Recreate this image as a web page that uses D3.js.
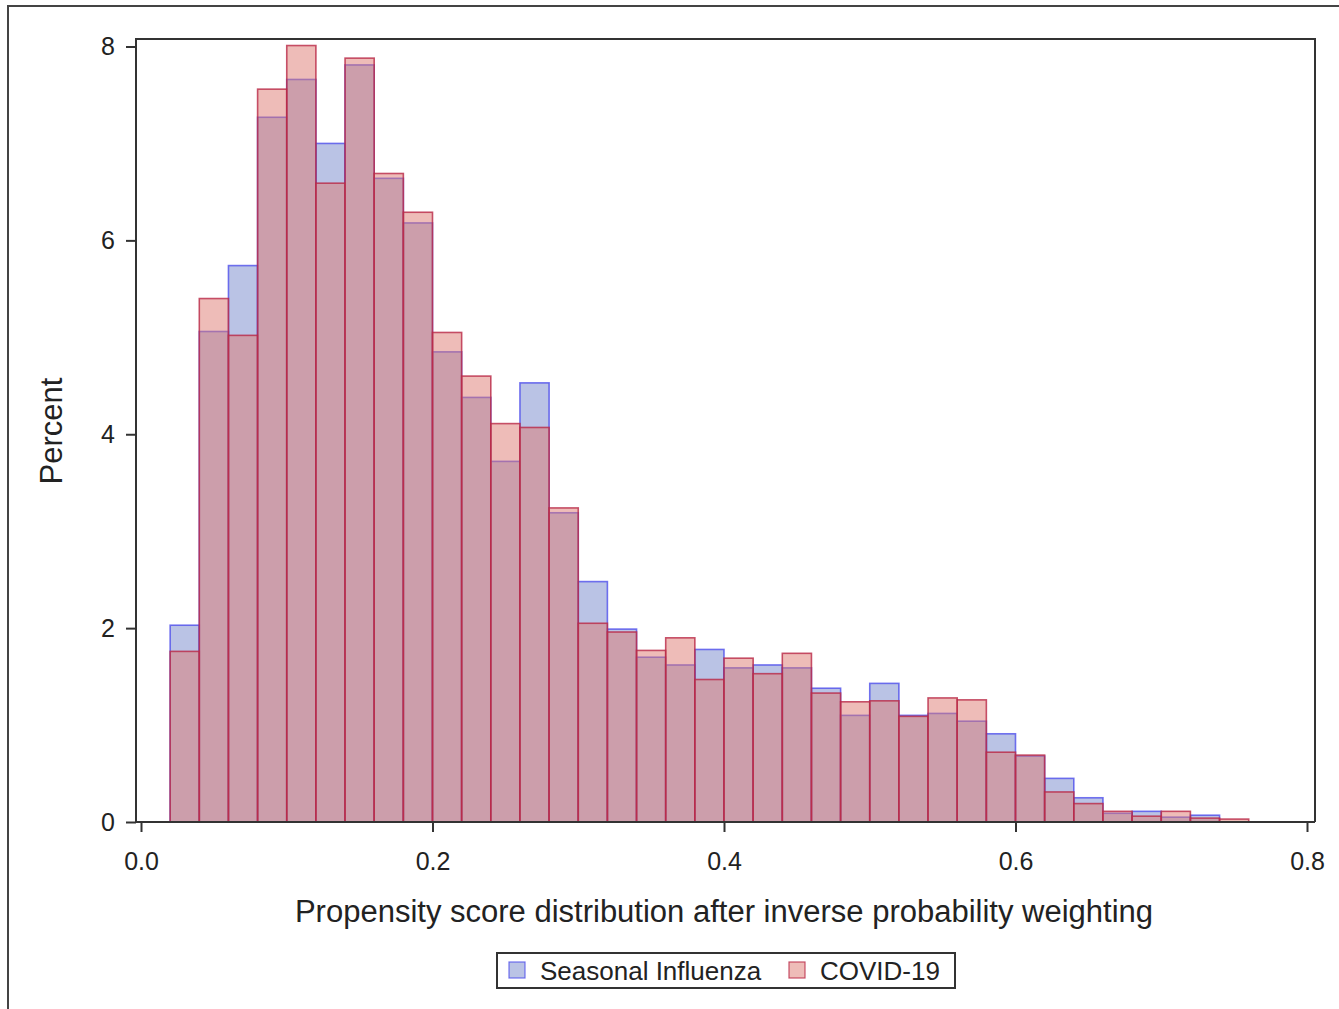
<!DOCTYPE html>
<html>
<head>
<meta charset="utf-8">
<script src="https://cdn.jsdelivr.net/npm/d3@7"></script>
<style>
  html, body { margin: 0; padding: 0; background: #fff; }
  svg { display: block; font-family: "Liberation Sans", Arial, sans-serif; }
</style>
</head>
<body>
<svg id="chart" width="1339" height="1009"></svg>
<script>
// Histogram bins: lower edge of each 0.02-wide propensity score bin
const binStarts = [0.02, 0.04, 0.06, 0.08, 0.10, 0.12, 0.14, 0.16, 0.18, 0.20,
                   0.22, 0.24, 0.26, 0.28, 0.30, 0.32, 0.34, 0.36, 0.38, 0.40,
                   0.42, 0.44, 0.46, 0.48, 0.50, 0.52, 0.54, 0.56, 0.58, 0.60,
                   0.62, 0.64, 0.66, 0.68, 0.70, 0.72, 0.74];
const binWidth = 0.02;

// Percent of patients in each bin
const influenzaPct = [2.03, 5.06, 5.74, 7.27, 7.66, 7.00, 7.81, 6.64, 6.18, 4.85,
                      4.38, 3.72, 4.53, 3.19, 2.48, 1.99, 1.70, 1.62, 1.78, 1.59,
                      1.62, 1.59, 1.38, 1.10, 1.43, 1.10, 1.12, 1.04, 0.91, 0.68,
                      0.45, 0.25, 0.09, 0.11, 0.05, 0.07, 0.00];
const covidPct     = [1.76, 5.40, 5.02, 7.56, 8.01, 6.59, 7.88, 6.69, 6.29, 5.05,
                      4.60, 4.11, 4.07, 3.24, 2.05, 1.96, 1.77, 1.90, 1.47, 1.69,
                      1.53, 1.74, 1.33, 1.24, 1.25, 1.09, 1.28, 1.26, 0.72, 0.69,
                      0.31, 0.19, 0.11, 0.06, 0.11, 0.04, 0.03];

const xTicks = [0.0, 0.2, 0.4, 0.6, 0.8];
const yTicks = [0, 2, 4, 6, 8];
const seriesNames = ["Seasonal Influenza", "COVID-19"];

const svg = d3.select("#chart");
const axisColor = "#333";

// Outer graph border
svg.append("rect")
  .attr("x", 8).attr("y", 6)
  .attr("width", 1400).attr("height", 1100)
  .attr("fill", "none").attr("stroke", "#444").attr("stroke-width", 2);

const frame = { left: 136, right: 1315, top: 39, bottom: 822 };

const x = d3.scaleLinear().domain([0, 0.8]).range([141, 1307]);
const y = d3.scaleLinear().domain([0, 8]).range([822, 46.5]);

const series = [
  { name: seriesNames[0], values: influenzaPct, fill: "rgba(118,136,204,0.5)", stroke: "rgba(70,70,235,0.75)" },
  { name: seriesNames[1], values: covidPct,     fill: "rgba(221,122,114,0.5)", stroke: "rgba(185,40,70,0.8)" }
];

// Overlaid histogram bars, influenza underneath
series.forEach(s => {
  svg.append("g")
    .selectAll("rect")
    .data(binStarts.map((b, i) => ({ b, v: s.values[i] })).filter(d => d.v > 0))
    .join("rect")
      .attr("x", d => x(d.b))
      .attr("y", d => y(d.v))
      .attr("width", d => x(d.b + binWidth) - x(d.b))
      .attr("height", d => y(0) - y(d.v))
      .attr("fill", s.fill)
      .attr("stroke", s.stroke)
      .attr("stroke-width", 1.6);
});

// Plot frame
svg.append("path")
  .attr("d", `M${frame.left},${frame.bottom}V${frame.top}H${frame.right}V${frame.bottom}`)
  .attr("fill", "none").attr("stroke", axisColor).attr("stroke-width", 2);

// X axis
const xAxis = d3.axisBottom(x).tickValues(xTicks).tickFormat(d3.format(".1f"))
  .tickSizeOuter(0).tickSizeInner(10).tickPadding(20);
const gx = svg.append("g").attr("transform", `translate(0,${frame.bottom})`).call(xAxis);
gx.select(".domain").attr("d", `M${frame.left},0H${frame.right}`).attr("stroke", axisColor).attr("stroke-width", 2);
gx.selectAll(".tick line").attr("stroke", axisColor).attr("stroke-width", 2);
gx.selectAll(".tick text").attr("fill", "#222").style("font-size", "25px");

// Y axis
const yAxis = d3.axisLeft(y).tickValues(yTicks).tickFormat(d3.format("d"))
  .tickSizeOuter(0).tickSizeInner(10).tickPadding(11);
const gy = svg.append("g").attr("transform", `translate(${frame.left},0)`).call(yAxis);
gy.select(".domain").remove();
gy.selectAll(".tick line").attr("stroke", axisColor).attr("stroke-width", 2);
gy.selectAll(".tick text").attr("fill", "#222").style("font-size", "25px");

// Axis titles
svg.append("text")
  .attr("x", 724).attr("y", 922)
  .attr("text-anchor", "middle")
  .attr("fill", "#222")
  .style("font-size", "31px")
  .text("Propensity score distribution after inverse probability weighting");

svg.append("text")
  .attr("transform", "translate(62,431) rotate(-90)")
  .attr("text-anchor", "middle")
  .attr("fill", "#222")
  .style("font-size", "31px")
  .text("Percent");

// Legend
const legend = svg.append("g");
legend.append("rect")
  .attr("x", 497).attr("y", 953).attr("width", 458).attr("height", 35)
  .attr("fill", "#fff").attr("stroke", "#333").attr("stroke-width", 2);
const legendItems = [
  { s: series[0], sx: 509, tx: 540 },
  { s: series[1], sx: 789, tx: 820 }
];
legendItems.forEach(it => {
  legend.append("rect")
    .attr("x", it.sx).attr("y", 962).attr("width", 16).attr("height", 16)
    .attr("fill", it.s.fill).attr("stroke", it.s.stroke).attr("stroke-width", 1.2);
  legend.append("text")
    .attr("x", it.tx).attr("y", 980)
    .attr("fill", "#222")
    .style("font-size", "26px")
    .text(it.s.name);
});
</script>
</body>
</html>
